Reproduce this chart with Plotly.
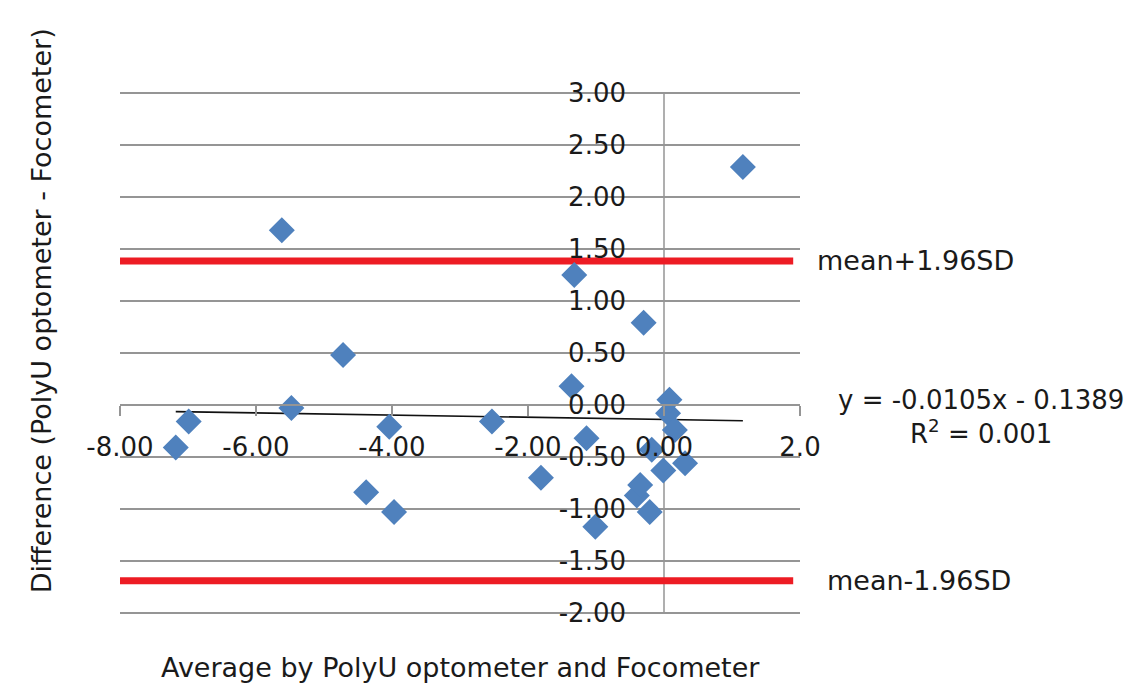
import plotly.graph_objects as go

# Bland-Altman data: average of the two instruments vs their difference
avg_power = [-7.18, -6.99, -5.62, -5.48, -4.72, -4.38, -4.04, -3.97, -2.53, -1.81,
             -1.36, -1.32, -1.14, -1.01, -0.40, -0.35, -0.30, -0.21, -0.18, -0.01,
             0.06, 0.08, 0.16, 0.31, 1.16]
difference = [-0.41, -0.16, 1.68, -0.03, 0.48, -0.84, -0.21, -1.03, -0.16, -0.70,
              0.18, 1.25, -0.32, -1.17, -0.87, -0.77, 0.79, -1.03, -0.43, -0.63,
              -0.08, 0.05, -0.24, -0.56, 2.29]

# limits of agreement
upper_loa = 1.385
lower_loa = -1.69
loa_x = [-8.0, 1.9]

# linear trend line (as reported in the equation)
slope = -0.0105
intercept = -0.1389
r_squared = "0.001"

x_ticks = [-8, -6, -4, -2, 0, 2]
x_tick_text = ["-8.00", "-6.00", "-4.00", "-2.00", "0.00", "2.0"]
y_ticks = [-2.0, -1.5, -1.0, -0.5, 0.0, 0.5, 1.0, 1.5, 2.0, 2.5, 3.0]
y_tick_text = ["-2.00", "-1.50", "-1.00", "-0.50", "0.00", "0.50",
               "1.00", "1.50", "2.00", "2.50", "3.00"]

FONT = "DejaVu Sans"
TXT = "#1a1a1a"
GRID = "#959595"

x_lo, x_hi = -8, 2
# a little headroom so the outermost gridlines (-2 and 3) are drawn
y_lo, y_hi = -2.02, 3.02

fig = go.Figure()

fig.add_trace(go.Scatter(x=loa_x, y=[upper_loa, upper_loa], mode="lines",
                         line=dict(color="#ED1C24", width=7), hoverinfo="skip"))
fig.add_trace(go.Scatter(x=loa_x, y=[lower_loa, lower_loa], mode="lines",
                         line=dict(color="#ED1C24", width=7), hoverinfo="skip"))

tx = [min(avg_power), max(avg_power)]
fig.add_trace(go.Scatter(x=tx, y=[slope * v + intercept for v in tx], mode="lines",
                         line=dict(color="#111111", width=1.6), hoverinfo="skip"))

fig.add_trace(go.Scatter(x=avg_power, y=difference, mode="markers",
                         marker=dict(symbol="diamond", size=20, color="#4F81BD",
                                     line=dict(width=0))))

x_zero_frac = (0 - x_lo) / (x_hi - x_lo)
y_zero_frac = (0 - y_lo) / (y_hi - y_lo)

plot_top = 93 - 2
plot_bottom = 683 - 613 - 2

fig.update_layout(
    width=1133, height=683,
    margin=dict(l=120, r=333, t=plot_top, b=plot_bottom),
    paper_bgcolor="white", plot_bgcolor="white",
    showlegend=False,
    font=dict(family=FONT, color=TXT),
    xaxis=dict(range=[x_lo, x_hi], tickvals=x_ticks, ticktext=x_tick_text,
               anchor="free", position=y_zero_frac,
               showgrid=False, zeroline=False,
               showline=True, linecolor=GRID, linewidth=1.5,
               ticks="outside", ticklen=10, tickcolor=GRID, tickwidth=1.5,
               ticklabelstandoff=9,
               tickfont=dict(size=26, family=FONT, color=TXT),
               automargin=False),
    yaxis=dict(range=[y_lo, y_hi], tickvals=y_ticks, ticktext=y_tick_text,
               anchor="free", position=x_zero_frac,
               showgrid=True, gridcolor=GRID, gridwidth=1.5,
               zeroline=False,
               showline=False,
               ticks="", ticklabelstandoff=38,
               tickfont=dict(size=26, family=FONT, color=TXT),
               automargin=False),
    shapes=[
        # vertical axis line through x = 0, spanning -2 to 3
        dict(type="line", xref="x", yref="y", x0=0, x1=0, y0=-2, y1=3,
             line=dict(color=GRID, width=1.5), layer="below"),
    ],
    annotations=[
        dict(text="Average by PolyU optometer and Focometer", xref="paper", yref="paper",
             x=0.5, y=-0.10, xanchor="center", yanchor="middle", showarrow=False,
             font=dict(size=27, family=FONT, color=TXT)),
        dict(text="Difference (PolyU optometer - Focometer)", xref="paper", yref="paper",
             x=-0.115, y=0.581, xanchor="center", yanchor="middle", showarrow=False,
             textangle=-90, font=dict(size=27, family=FONT, color=TXT)),
        dict(text="mean+1.96SD", xref="paper", yref="y", x=1.022, y=upper_loa,
             xanchor="left", yanchor="middle", showarrow=False,
             font=dict(size=27, family=FONT, color=TXT)),
        dict(text="mean-1.96SD", xref="paper", yref="y", x=1.037, y=lower_loa,
             xanchor="left", yanchor="middle", showarrow=False,
             font=dict(size=27, family=FONT, color=TXT)),
        dict(text=f"y = {slope}x - {abs(intercept)}<br>R<sup>2</sup> = {r_squared}",
             xref="paper", yref="y", x=1.266, y=-0.12, xanchor="center",
             yanchor="middle", align="center", showarrow=False,
             font=dict(size=26, family=FONT, color=TXT)),
    ],
)

fig.write_html("out.html")
